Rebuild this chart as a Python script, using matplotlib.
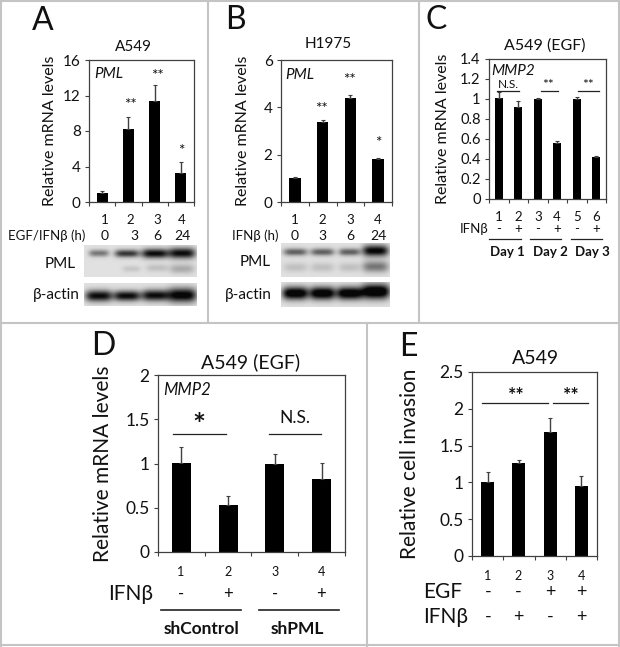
import matplotlib
matplotlib.use('Agg')
import matplotlib.pyplot as plt
import numpy as np

plt.rcParams['font.family'] = ['Lato', 'DejaVu Sans']

W, H = 620, 647
LINE = '#404040'
FRAME = '#c4c4c4'

# panel data
a_vals = [1.0, 8.2, 11.4, 3.25]
a_errs = [0.2, 1.4, 1.8, 1.25]
a_ticks = [0, 4, 8, 12, 16]
b_vals = [1.0, 3.38, 4.38, 1.8]
b_errs = [0.07, 0.1, 0.15, 0.08]
b_ticks = [0, 2, 4, 6]
c_vals = [1.01, 0.92, 1.0, 0.56, 1.0, 0.42]
c_errs = [0.06, 0.06, 0.01, 0.02, 0.02, 0.01]
c_ticks = [0, 0.2, 0.4, 0.6, 0.8, 1, 1.2, 1.4]
c_labels = ['0', '0.2', '0.4', '0.6', '0.8', '1', '1.2', '1.4']
d_vals = [1.01, 0.53, 1.0, 0.83]
d_errs = [0.18, 0.1, 0.11, 0.18]
d_ticks = [0, 0.5, 1, 1.5, 2]
d_labels = ['0', '0.5', '1', '1.5', '2']
e_vals = [1.0, 1.27, 1.69, 0.95]
e_errs = [0.14, 0.04, 0.18, 0.14]
e_ticks = [0, 0.5, 1, 1.5, 2, 2.5]
e_labels = ['0', '0.5', '1', '1.5', '2', '2.5']

# blot bands: lane centre, row, half width, half height, darkness
a_pml_bands = [(0.13, 0.25, 0.09, 0.11, 0.5), (0.38, 0.26, 0.11, 0.12, 0.8), (0.63, 0.26, 0.12, 0.15, 1.0),
               (0.87, 0.25, 0.12, 0.17, 1.0), (0.42, 0.75, 0.08, 0.1, 0.12), (0.65, 0.72, 0.1, 0.12, 0.15),
               (0.87, 0.75, 0.11, 0.15, 0.25)]
a_actin_bands = [(0.13, 0.58, 0.12, 0.24, 1.0), (0.38, 0.58, 0.12, 0.22, 1.0), (0.63, 0.56, 0.12, 0.24, 1.0),
                 (0.87, 0.55, 0.13, 0.3, 1.1)]
b_pml_bands = [(0.13, 0.26, 0.11, 0.11, 0.6), (0.38, 0.26, 0.11, 0.11, 0.6), (0.63, 0.26, 0.1, 0.11, 0.6),
               (0.87, 0.22, 0.12, 0.17, 1.05), (0.13, 0.72, 0.11, 0.14, 0.15), (0.38, 0.72, 0.11, 0.14, 0.15),
               (0.63, 0.72, 0.1, 0.14, 0.15), (0.87, 0.7, 0.12, 0.17, 0.5)]
b_actin_bands = [(0.13, 0.45, 0.12, 0.26, 1.2), (0.38, 0.45, 0.12, 0.26, 1.2), (0.63, 0.45, 0.12, 0.26, 1.2),
                 (0.87, 0.38, 0.13, 0.3, 1.3)]


def px_axes(left, top, right, bottom):
    return fig.add_axes([left / W, 1 - bottom / H, (right - left) / W, (bottom - top) / H])


def put(x, y, s, size=10, **kw):
    kw.setdefault('ha', 'center')
    kw.setdefault('va', 'center')
    fig.text(x / W, 1 - y / H, s, fontsize=size, color='#111111', **kw)


def hline(x0, x1, y, lw=0.9, color='#222222'):
    fig.add_artist(plt.Line2D([x0 / W, x1 / W], [1 - y / H, 1 - y / H], color=color, lw=lw))


def vline(x, y0, y1):
    fig.add_artist(plt.Line2D([x / W, x / W], [1 - y0 / H, 1 - y1 / H], color=FRAME, lw=1.5))


def bars(box, vals, errs, ticks, labels=None, tick_size=11, ylabel='Relative mRNA levels', label_size=11.5,
         label_x=50):
    ax = px_axes(*box)
    x = np.arange(len(vals))
    ax.bar(x, vals, width=0.41, color='black')
    ax.errorbar(x, vals, yerr=[np.zeros(len(vals)), errs], fmt='none', ecolor=LINE, elinewidth=1, capsize=1.5,
                capthick=0.8)
    ax.set_xlim(-0.5, len(vals) - 0.5)
    ax.set_ylim(ticks[0], ticks[-1])
    ax.set_xticks(np.arange(len(vals) + 1) - 0.5)
    ax.set_xticklabels([])
    ax.set_yticks(ticks)
    ax.set_yticklabels(labels if labels else [str(t) for t in ticks], fontsize=tick_size, color='#111111')
    ax.tick_params(length=3, width=0.8, color=LINE, pad=3)
    for s in ax.spines.values():
        s.set_color(LINE)
        s.set_linewidth(0.9)
    # label is placed by its pixel column in the figure
    fig.text(label_x / W, 1 - (box[1] + box[3]) / 2 / H, ylabel, rotation=90, ha='center', va='center',
             fontsize=label_size, color='#111111')
    return ax


def blot(box, bands):
    ax = px_axes(*box)
    h, w = 40, 120
    yy, xx = np.mgrid[0:1:h * 1j, 0:1:w * 1j]
    img = np.full((h, w), 0.0)
    for cx, cy, hw, hh, dark in bands:
        img += dark * np.exp(-((np.abs(xx - cx) / hw) ** 4) - ((yy - cy) / hh) ** 2)
    ax.imshow(0.88 - 0.85 * np.clip(img, 0, 1), cmap='gray', vmin=0, vmax=1, aspect='auto', extent=(0, 1, 1, 0),
              interpolation='bilinear')
    ax.axis('off')


fig = plt.figure(figsize=(W / 100, H / 100), dpi=100)

# panel frames
hline(0, 620, 1, lw=1.5, color=FRAME)
hline(0, 620, 323, lw=1.5, color=FRAME)
hline(0, 620, 645, lw=1.5, color=FRAME)
vline(1, 0, 647)
vline(618.5, 0, 647)
vline(208, 0, 323)
vline(419, 0, 323)
vline(367, 323, 647)

# A
bars((89, 60, 194, 202), a_vals, a_errs, a_ticks, label_x=50)
put(43, 21, 'A', 23)
put(133, 47, 'A549', 11)
put(94, 74, 'PML', 11, ha='left', style='italic')
for x, y, s in zip([130, 157, 181], [105, 76, 151], ['**', '**', '*']):
    put(x, y, s, 11)
for x, s in zip([105, 130, 157, 182], ['1', '2', '3', '4']):
    put(x, 220, s, 9.5)
for x, s in zip([105, 134, 157, 182], ['0', '3', '6', '24']):
    put(x, 236, s, 10)
put(8, 236, 'EGF/IFNβ (h)', 9.5, ha='left')
blot((84, 245, 196, 277), a_pml_bands)
blot((84, 283, 196, 306), a_actin_bands)
put(60, 264, 'PML', 11)
put(56, 295, 'β-actin', 11)

# B
bars((281, 60, 392, 202), b_vals, b_errs, b_ticks, label_x=243)
put(235, 20, 'B', 23)
put(328, 44, 'H1975', 11)
put(285, 75, 'PML', 11, ha='left', style='italic')
for x, y, s in zip([321, 349, 378], [109, 80, 143], ['**', '**', '*']):
    put(x, y, s, 11)
for x, s in zip([295, 322, 350, 378], ['1', '2', '3', '4']):
    put(x, 220, s, 9.5)
for x, s in zip([295, 322, 350, 378], ['0', '3', '6', '24']):
    put(x, 236, s, 10)
put(232, 236, 'IFNβ (h)', 9.5, ha='left')
blot((281, 243, 390, 277), b_pml_bands)
blot((281, 282, 390, 307), b_actin_bands)
put(255, 262, 'PML', 11)
put(248, 295, 'β-actin', 11)

# C
bars((489, 59, 606, 199), c_vals, c_errs, c_ticks, c_labels, tick_size=10.5, label_x=443)
put(436, 20, 'C', 23)
put(545, 46, 'A549 (EGF)', 11.5)
put(491, 71, 'MMP2', 11, ha='left', style='italic')
put(508, 85, 'N.S.', 8.5)
put(548, 85, '**', 10)
put(588, 85, '**', 10)
hline(497, 519, 90.5)
hline(541, 558, 90.5)
hline(578, 599, 90.5)
for x, s, p in zip([499, 518, 538, 557, 577, 596], '123456', '-+-+-+'):
    put(x, 217, s, 9.5)
    put(x, 229, p, 9.5)
put(474, 229, 'IFNβ', 9.5)
hline(489, 521, 239)
hline(530, 561, 239)
hline(571, 602, 239)
for x, s in zip([507, 550, 592], ['Day 1', 'Day 2', 'Day 3']):
    put(x, 252, s, 9.5, weight='bold')

# D
bars((158, 375, 345, 552), d_vals, d_errs, d_ticks, d_labels, tick_size=12.5, label_size=15, label_x=103)
put(103, 346, 'D', 23)
put(251, 362, 'A549 (EGF)', 14)
put(163, 390, 'MMP2', 12, ha='left', style='italic')
put(199, 426, '*', 22, weight='bold')
put(295, 418, 'N.S.', 12.5)
hline(173, 226, 434)
hline(269, 321, 434)
for x, s, p in zip([181, 228, 275, 321], '1234', ['-', '+', '-', '+']):
    put(x, 572, s, 9)
    put(x, 594, p, 12)
put(131, 594, 'IFNβ', 15)
hline(161, 241, 610, lw=1.2)
hline(259, 339, 610, lw=1.2)
put(202, 629, 'shControl', 12.5, weight='bold')
put(297, 629, 'shPML', 12.5, weight='bold')

# E
bars((472, 372, 597, 556), e_vals, e_errs, e_ticks, e_labels, tick_size=12.5, ylabel='Relative cell invasion',
     label_size=15, label_x=410)
put(408, 347, 'E', 23)
put(536, 358, 'A549', 14)
put(516, 396, '**', 14, weight='bold')
put(571, 396, '**', 14, weight='bold')
hline(482, 548, 402.5)
hline(553, 588, 402.5)
for x, s, p, q in zip([488, 518, 550, 581], '1234', ['-', '-', '+', '+'], ['-', '+', '-', '+']):
    put(x, 576, s, 9)
    put(x, 592, p, 13)
    put(x, 617, q, 13)
put(443, 592, 'EGF', 15)
put(468, 617, 'IFNβ', 15, ha='right')

fig.savefig('out.png', dpi=100)
